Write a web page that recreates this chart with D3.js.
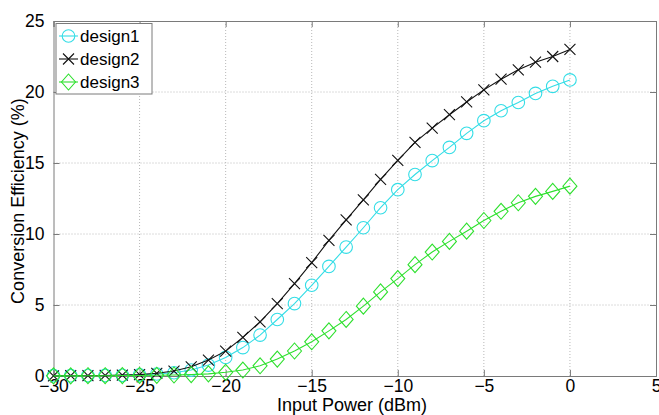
<!DOCTYPE html>
<html>
<head>
<meta charset="utf-8">
<script src="https://cdn.jsdelivr.net/npm/d3@7"></script>
<style>
  html, body { margin: 0; padding: 0; background: #fff; }
  svg { display: block; }
  text { font-family: "Liberation Sans", Arial, sans-serif; fill: #000; }
</style>
</head>
<body>
<svg id="chart" width="659" height="415"></svg>
<script>
const inputPower = d3.range(-30, 1, 1);
const design1 = [0.02,0.02,0.03,0.04,0.05,0.08,0.14,0.23,0.42,0.77,1.31,2.0,2.88,3.98,5.1,6.39,7.72,9.08,10.44,11.85,13.12,14.19,15.17,16.1,17.09,17.98,18.68,19.26,19.9,20.4,20.85];
const design2 = [0.01,0.02,0.03,0.04,0.06,0.1,0.19,0.35,0.65,1.12,1.75,2.72,3.81,5.1,6.5,7.98,9.55,11.0,12.4,13.85,15.18,16.45,17.46,18.4,19.3,20.15,20.9,21.56,22.1,22.5,23.0];
const design3 = [0.01,0.01,0.02,0.02,0.03,0.04,0.05,0.07,0.1,0.15,0.26,0.42,0.72,1.19,1.76,2.41,3.18,3.98,4.92,5.92,6.86,7.84,8.73,9.48,10.2,10.95,11.6,12.2,12.65,13.0,13.37];
const seriesNames = ["design1", "design2", "design3"];
const xTicks = [-30, -25, -20, -15, -10, -5, 0, 5];
const yTicks = [0, 5, 10, 15, 20, 25];
const xLabel = "Input Power (dBm)";
const yLabel = "Conversion Efficiency (%)";

const colors = { design1: "#33dde6", design2: "#111111", design3: "#2ee02e" };
const markers = { design1: "circle", design2: "cross", design3: "diamond" };
const seriesData = { design1, design2, design3 };

const svg = d3.select("#chart");
const L = 53.5, R = 656, T = 21, B = 376;
const x = d3.scaleLinear().domain([-30, 5]).range([L, R]);
const y = d3.scaleLinear().domain([0, 25]).range([B, T]);

// grid
const grid = svg.append("g");
xTicks.slice(1, -1).forEach(t => {
  grid.append("line").attr("x1", x(t)).attr("x2", x(t)).attr("y1", T).attr("y2", B)
    .attr("stroke", "#b8b8b8").attr("stroke-width", 1).attr("stroke-dasharray", "1,2");
});
yTicks.slice(1, -1).forEach(t => {
  grid.append("line").attr("x1", L).attr("x2", R).attr("y1", y(t)).attr("y2", y(t))
    .attr("stroke", "#b8b8b8").attr("stroke-width", 1).attr("stroke-dasharray", "1,2");
});

// axes
const tickLen = 6;
const axB = d3.axisBottom(x).tickValues(xTicks).tickSize(-tickLen).tickPadding(tickLen + 2).tickFormat(d3.format("d"));
const axT = d3.axisTop(x).tickValues(xTicks).tickSize(-tickLen).tickFormat("");
const axL = d3.axisLeft(y).tickValues(yTicks).tickSize(-tickLen).tickPadding(tickLen + 3).tickFormat(d3.format("d"));
const axR = d3.axisRight(y).tickValues(yTicks).tickSize(-tickLen).tickFormat("");

function styleAxis(g) {
  g.selectAll("path").attr("stroke", "#7a7a7a").attr("stroke-width", 1);
  g.selectAll("line").attr("stroke", "#7a7a7a").attr("stroke-width", 1);
  g.selectAll("text").style("font-size", "17.5px").attr("fill", "#000")
    .style("font-family", "'Liberation Sans', Arial, sans-serif");
}
svg.append("g").attr("transform", `translate(0,${B})`).call(axB).call(styleAxis)
  .selectAll("text").attr("dy", "0.48em");
svg.append("g").attr("transform", `translate(0,${T})`).call(axT).call(styleAxis);
svg.append("g").attr("transform", `translate(${L},0)`).call(axL).call(styleAxis);
svg.append("g").attr("transform", `translate(${R},0)`).call(axR).call(styleAxis);
svg.selectAll(".domain").attr("stroke", "#7a7a7a");

// axis labels
svg.append("text").attr("x", 352).attr("y", 411).attr("text-anchor", "middle")
  .style("font-size", "18px").text(xLabel);
svg.append("text").attr("transform", `translate(23.5,201) rotate(-90)`)
  .attr("text-anchor", "middle").style("font-size", "18px").text(yLabel);

function drawMarker(g, type, cx, cy, color) {
  if (type === "circle") {
    g.append("circle").attr("cx", cx).attr("cy", cy).attr("r", 6.3)
      .attr("fill", "none").attr("stroke", color).attr("stroke-width", 1.1);
  } else if (type === "cross") {
    const s = 5.5;
    g.append("path").attr("d", `M${cx - s},${cy - s}L${cx + s},${cy + s}M${cx - s},${cy + s}L${cx + s},${cy - s}`)
      .attr("stroke", color).attr("stroke-width", 1.1).attr("fill", "none");
  } else {
    const w = 7, h = 8;
    g.append("path").attr("d", `M${cx},${cy - h}L${cx + w},${cy}L${cx},${cy + h}L${cx - w},${cy}Z`)
      .attr("stroke", color).attr("stroke-width", 1.1).attr("fill", "none");
  }
}

const line = d3.line().x(d => x(d[0])).y(d => y(d[1]));
const plot = svg.append("g");
seriesNames.forEach(name => {
  const pts = inputPower.map((p, i) => [p, seriesData[name][i]]);
  const g = plot.append("g");
  g.append("path").datum(pts).attr("d", line).attr("fill", "none")
    .attr("stroke", colors[name]).attr("stroke-width", 1.1);
  pts.forEach(d => drawMarker(g, markers[name], x(d[0]), y(d[1]), colors[name]));
});

// legend
const lg = svg.append("g");
lg.append("rect").attr("x", 56).attr("y", 23.5).attr("width", 96).attr("height", 70.5)
  .attr("fill", "#fff").attr("stroke", "#7a7a7a").attr("stroke-width", 1);
seriesNames.forEach((name, i) => {
  const cy = 36 + i * 23;
  lg.append("line").attr("x1", 59).attr("x2", 78).attr("y1", cy).attr("y2", cy)
    .attr("stroke", colors[name]).attr("stroke-width", 1.1);
  drawMarker(lg, markers[name], 68.5, cy, colors[name]);
  lg.append("text").attr("x", 80).attr("y", cy).attr("dy", "0.36em")
    .style("font-size", "17px").text(name);
});
</script>
</body>
</html>
